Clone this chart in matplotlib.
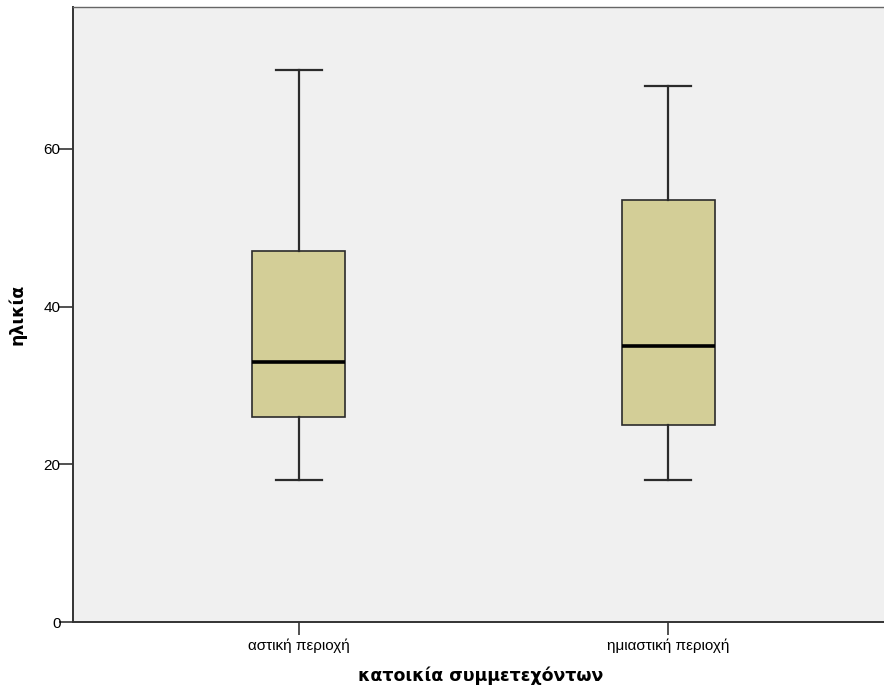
import matplotlib
matplotlib.use("Agg")
import matplotlib.pyplot as plt

# Summary statistics of age per residence group
categories = ["αστική περιοχή", "ημιαστική περιοχή"]
whisker_low = [18, 18]
q1 = [26, 25]
median = [33, 35]
q3 = [47, 53.5]
whisker_high = [70, 68]
y_ticks = [0, 20, 40, 60]

W, H = 884, 688
fig = plt.figure(figsize=(W / 100, H / 100), dpi=100)
fig.patch.set_facecolor("white")

left, right, top, bottom = 73, 894, 7, 622
ax = fig.add_axes([left / W, 1 - bottom / H, (right - left) / W, (bottom - top) / H])
ax.set_facecolor("#F0F0F0")

stats = []
for i, name in enumerate(categories):
    stats.append(dict(label=name, whislo=whisker_low[i], q1=q1[i], med=median[i],
                      q3=q3[i], whishi=whisker_high[i], fliers=[]))

positions = list(range(len(categories)))
ax.bxp(stats, positions=positions, widths=0.252, patch_artist=True, showfliers=False,
       boxprops=dict(facecolor="#D3CE97", edgecolor="#2b2b2b", linewidth=1.2),
       medianprops=dict(color="black", linewidth=2.6),
       whiskerprops=dict(color="#2b2b2b", linewidth=1.6),
       capprops=dict(color="#2b2b2b", linewidth=1.6),
       capwidths=0.126)

ax.set_xlim(-0.612, 1.612)
ax.set_ylim(0, 78)
ax.set_yticks(y_ticks)
ax.set_xticks(positions)
ax.set_xticklabels(categories, fontfamily="Liberation Sans", fontsize=11)
for lab in ax.get_yticklabels():
    lab.set_fontfamily("Liberation Sans")
    lab.set_fontsize(11)

ax.tick_params(axis="y", direction="out", length=10, width=1.2, color="#333333", pad=-1)
ax.tick_params(axis="x", direction="out", length=9, width=1.2, color="#333333", pad=3)

for side in ["left", "bottom"]:
    ax.spines[side].set_color("#333333")
    ax.spines[side].set_linewidth(1.4)
for side in ["top", "right"]:
    ax.spines[side].set_color("#666666")
    ax.spines[side].set_linewidth(1.0)

ax.set_xlabel("κατοικία συμμετεχόντων", fontfamily="DejaVu Sans", fontweight="bold",
              fontsize=12.5)
ax.xaxis.set_label_coords((481 - left) / (right - left), -(676 - bottom) / (bottom - top))
ax.xaxis.label.set_verticalalignment("center")

ax.set_ylabel("ηλικία", fontfamily="DejaVu Sans", fontweight="bold", fontsize=12.5)
ax.yaxis.set_label_coords(-(left - 17) / (right - left), 0.5)
ax.yaxis.label.set_verticalalignment("center")

fig.savefig("out.png", dpi=100)
